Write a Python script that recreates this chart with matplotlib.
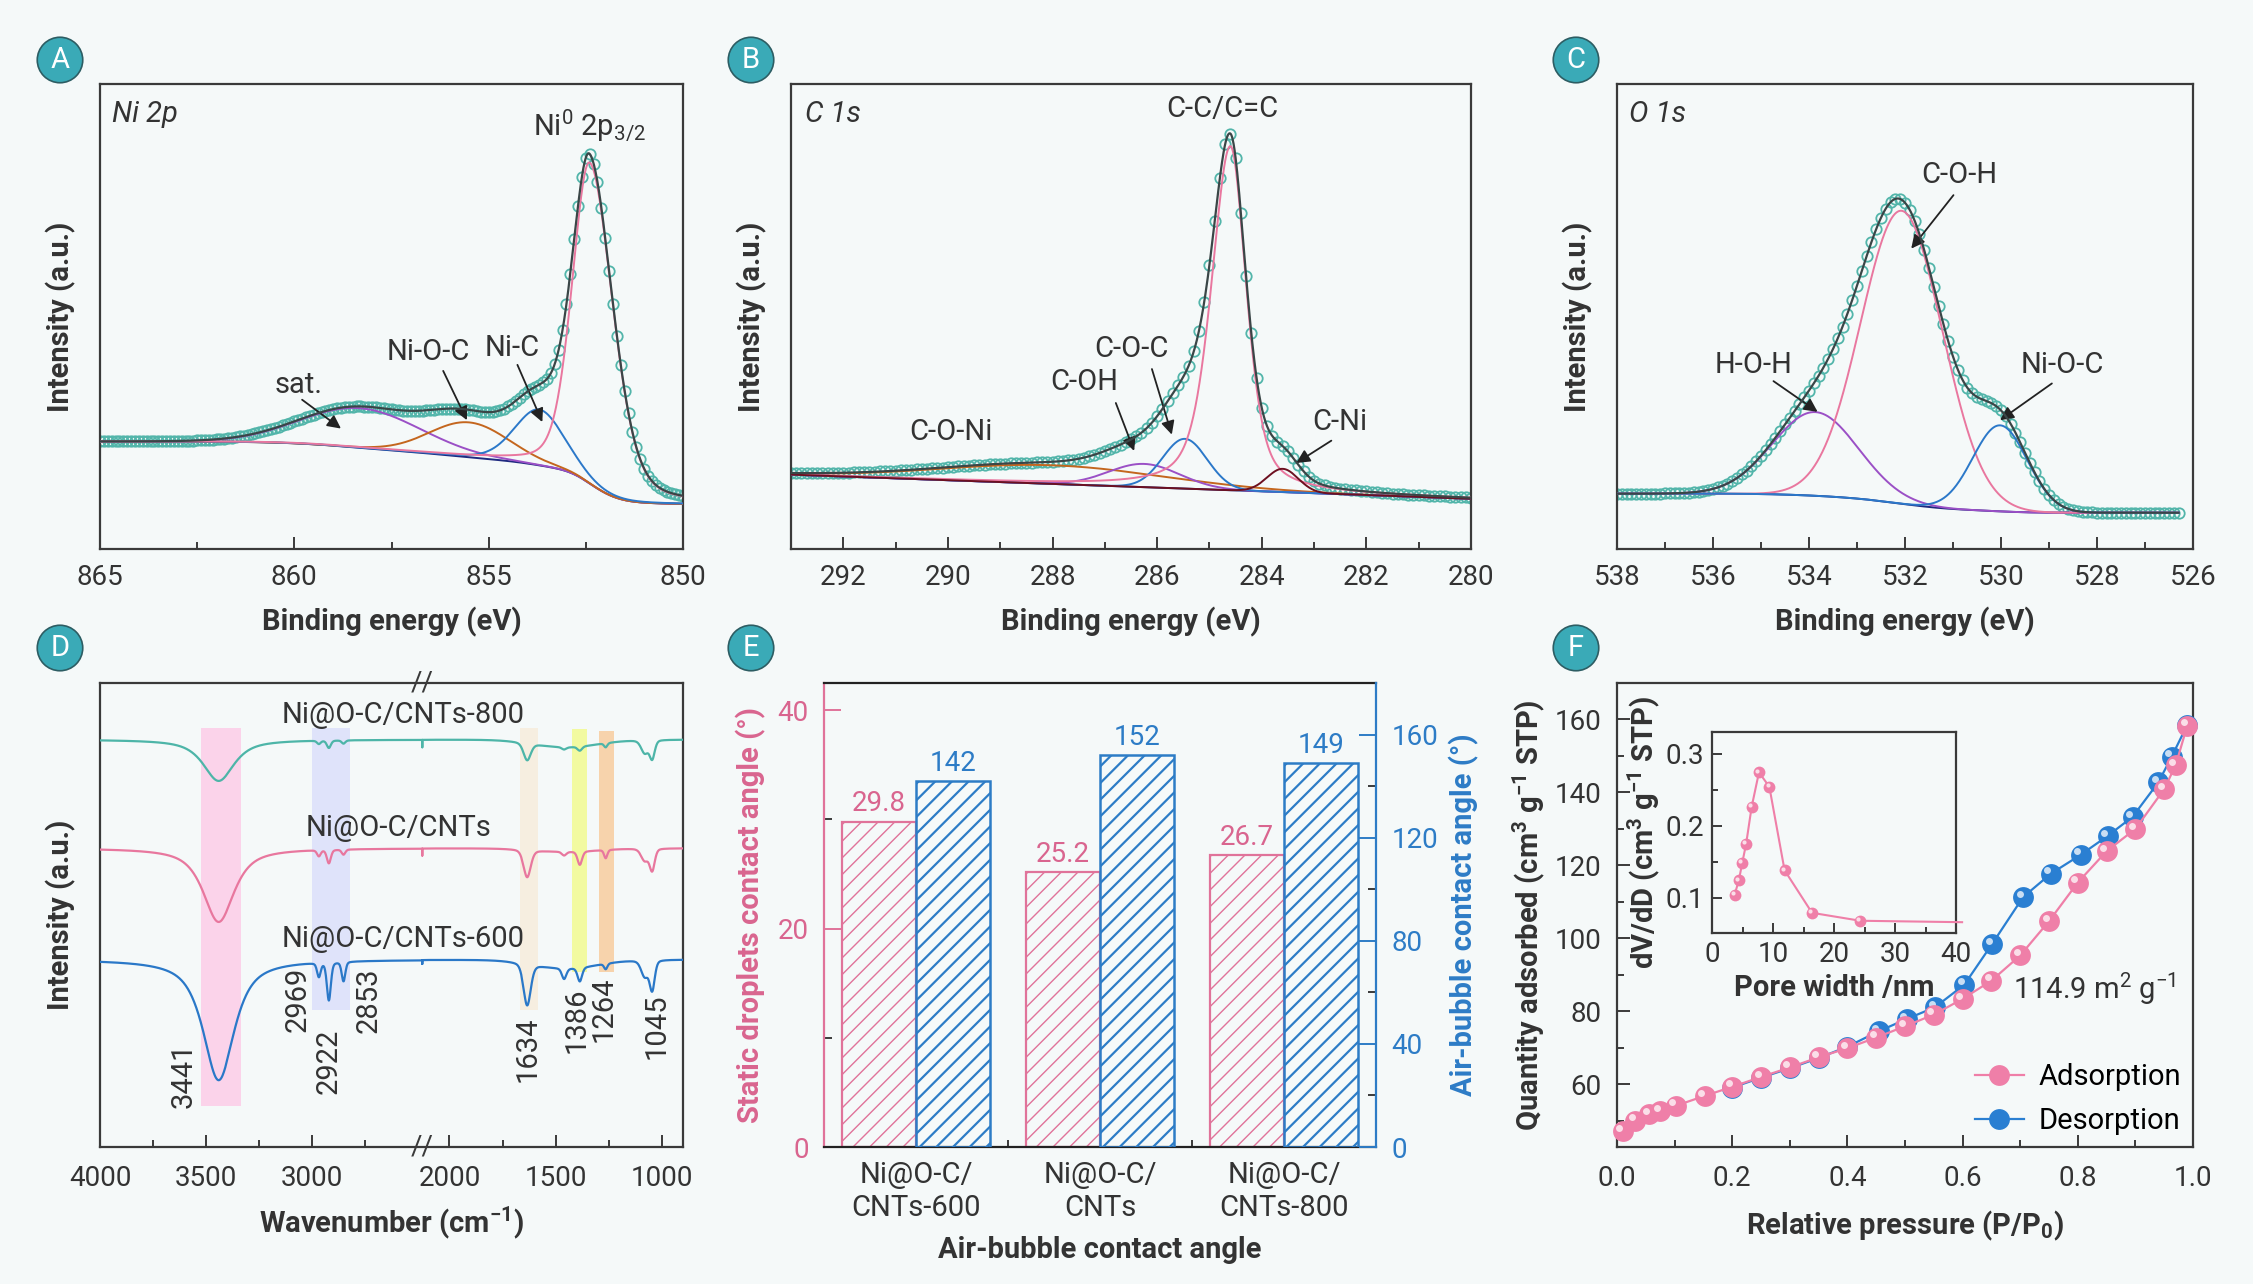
import numpy as np
import matplotlib
matplotlib.use('Agg')
import matplotlib.pyplot as plt
from matplotlib import transforms

plt.rcParams['font.family'] = ['Roboto', 'DejaVu Sans']
plt.rcParams['mathtext.fontset'] = 'custom'
plt.rcParams['mathtext.rm'] = 'Roboto'
plt.rcParams['mathtext.it'] = 'Roboto:italic'
plt.rcParams['mathtext.bf'] = 'Roboto:bold'
plt.rcParams['mathtext.default'] = 'regular'

# ---------------- data ----------------
# A: Ni 2p fit (centre eV, height, fwhm high-BE side, fwhm low-BE side, lorentz share)
ni_names = ['sat.', 'Ni-O-C', 'Ni-C', 'Ni0']
ni_center = [858.3, 855.5, 853.7, 852.4]
ni_height = [0.085, 0.075, 0.12, 0.69]
ni_fwhm_hi = [3.6, 2.4, 1.5, 1.06]
ni_fwhm_lo = [3.6, 2.4, 1.5, 1.40]
ni_eta = [0.0, 0.0, 0.2, 0.3]
ni_bg_low, ni_bg_high = 0.097, 0.231

# B: C 1s fit
c_names = ['C-O-Ni', 'C-OH', 'C-O-C', 'C-C/C=C', 'C-Ni']
c_center = [288.0, 286.25, 285.47, 284.6, 283.6]
c_height = [0.04, 0.05, 0.107, 0.74, 0.05]
c_fwhm_hi = [5.0, 1.6, 1.0, 0.86, 0.7]
c_fwhm_lo = [5.0, 1.6, 1.0, 0.72, 0.7]
c_eta = [0.0, 0.0, 0.0, 0.5, 0.0]
c_bg_low, c_bg_high = 0.108, 0.160

# C: O 1s fit
o_names = ['H-O-H', 'C-O-H', 'Ni-O-C']
o_center = [533.87, 532.07, 530.02]
o_height = [0.18, 0.63, 0.185]
o_fwhm = [2.1, 2.0, 1.34]
o_bg_low, o_bg_high = 0.078, 0.119

# D: FTIR bands (cm-1), widths and depths for each sample
ftir_center = [3441, 2969, 2922, 2853, 2350, 1634, 1460, 1386, 1264, 1080, 1045]
ftir_fwhm = [175, 20, 22, 20, 40, 40, 25, 25, 18, 40, 28]
ftir_eta = [0.8, 0.3, 0.3, 0.3, 0.3, 0.3, 0.3, 0.3, 0.3, 0.3, 0.3]
ftir_depth_800 = [8.9, 0.7, 1.6, 0.7, 1.6, 3.7, 0.5, 0.9, 0.9, 2.8, 3.9]
ftir_depth_cnt = [15.9, 1.3, 2.9, 1.1, 1.5, 5.9, 0.8, 2.9, 1.8, 2.6, 4.6]
ftir_depth_600 = [26.0, 3.0, 8.2, 4.2, 0.8, 9.0, 2.3, 3.0, 1.2, 3.5, 6.3]
ftir_shoulder = [1.6, 0.7, 1.8]          # broad 1450 cm-1 sag
ftir_base = [87.8, 64.4, 40.4]
ftir_names = ['Ni@O-C/CNTs-800', 'Ni@O-C/CNTs', 'Ni@O-C/CNTs-600']
ftir_marks = ['3441', '2969', '2922', '2853', '1634', '1386', '1264', '1045']
band_ranges = [(3525, 3336), (3000, 2822), (1668, 1581), (1423, 1354), (1295, 1223)]
band_heights = [(8.8, 90.2), (29.6, 90.2), (29.6, 90.2), (37.8, 90.0), (37.8, 89.6)]

# E: contact angles
samples = ['Ni@O-C/\nCNTs-600', 'Ni@O-C/\nCNTs', 'Ni@O-C/\nCNTs-800']
static_angle = [29.8, 25.2, 26.7]
bubble_angle = [142, 152, 149]

# F: N2 isotherm
p_ads = [0.010, 0.032, 0.056, 0.075, 0.102, 0.152, 0.200, 0.250, 0.300, 0.350,
         0.400, 0.450, 0.500, 0.550, 0.600, 0.650, 0.700, 0.750, 0.800, 0.850,
         0.900, 0.950, 0.970, 0.990]
q_ads = [47.1, 50.0, 51.8, 52.7, 54.1, 56.8, 59.3, 62.0, 64.6, 67.4,
         69.9, 72.8, 75.9, 79.1, 83.4, 88.4, 95.3, 104.7, 115.3, 123.9,
         130.0, 140.9, 147.5, 158.3]
p_des = [0.990, 0.963, 0.940, 0.895, 0.852, 0.805, 0.753, 0.705, 0.651, 0.603,
         0.552, 0.503, 0.454, 0.400, 0.350, 0.300, 0.250, 0.200]
q_des = [158.5, 149.8, 142.8, 133.3, 128.1, 122.9, 117.7, 111.3, 98.4, 87.3,
         81.1, 77.9, 74.5, 70.3, 67.2, 64.4, 61.8, 59.1]
pore_width = [3.7, 4.4, 4.95, 5.6, 6.5, 7.7, 9.4, 11.9, 16.4, 24.3, 41.0]
pore_dvdd = [0.104, 0.124, 0.148, 0.175, 0.226, 0.274, 0.254, 0.138, 0.079, 0.068, 0.066]

# ---------------- style ----------------
BG = '#f5f9f9'
TXT = '#333333'
SPINE = '#3a3a3a'
DOT = '#52b5aa'
ENV = '#3a4647'
PINK = '#e9779f'
BLUE = '#2b78c9'
ORANGE = '#c4661e'
PURPLE = '#9b50c6'
DARKRED = '#6d1020'
NAVY = '#1f2a80'
TEAL = '#3aaab7'
FS_LAB = 21     # axis titles
FS_ANN = 21     # in-plot words
FS_TICK = 20

W, H = 2253, 1284
fig = plt.figure(figsize=(W / 100, H / 100), dpi=100, facecolor=BG)


def add_ax(l, t, r, b):
    return fig.add_axes([l / W, 1 - b / H, (r - l) / W, (b - t) / H], facecolor=BG)


def frame(ax, color=SPINE):
    for s in ax.spines.values():
        s.set_color(color)
        s.set_linewidth(1.6)
    ax.tick_params(which='both', direction='in', colors=color, labelcolor=TXT,
                   labelsize=FS_TICK, width=1.4, pad=11)
    ax.tick_params(which='major', length=9)
    ax.tick_params(which='minor', length=5)


def voigt(x, c, h, fw_hi, fw_lo, eta):
    hw = np.where(x >= c, fw_hi, fw_lo) / 2.0
    u = (x - c) / hw
    return h * ((1 - eta) * np.exp(-np.log(2) * u ** 2) + eta / (1 + u ** 2))


def shirley(signal, lo, hi):
    cum = np.cumsum(signal)
    return lo + (hi - lo) * cum / cum[-1]


def panel_tag(x, y, s):
    fig.text(x / W, 1 - y / H, s, ha='center', va='center', color='white', fontsize=21,
             bbox=dict(boxstyle='circle,pad=0.3', fc=TEAL, ec='#2d5d63', lw=1.2))


def arrow(ax, tail, tip):
    ax.annotate('', xy=tip, xytext=tail,
                arrowprops=dict(arrowstyle='-|>', color='#222222', lw=1.3, mutation_scale=20,
                                shrinkA=0, shrinkB=0))


def word(ax, x, y, s, **kw):
    ax.text(x, y, s, fontsize=FS_ANN, color=TXT, ha='center', va='center', **kw)


def xps_frame(ax, xlim, major, minor, tag):
    frame(ax)
    ax.set_xlim(*xlim)
    ax.set_ylim(0, 1)
    ax.set_xticks(major)
    ax.set_xticks(minor, minor=True)
    ax.set_yticks([])
    ax.set_xlabel('Binding energy (eV)', fontsize=FS_LAB, fontweight='bold', color=TXT,
                  labelpad=11)
    ax.set_ylabel('Intensity (a.u.)', fontsize=FS_LAB, fontweight='bold', color=TXT,
                  labelpad=17)
    ax.text(0.02, 0.935, tag, transform=ax.transAxes, fontsize=FS_ANN, style='italic',
            color=TXT, va='center')


def draw_fit(ax, x, peaks, bg, colors):
    env = bg + sum(peaks)
    ax.plot(x[::10], env[::10], 'o', ms=7.5, mfc='none', mec=DOT, mew=1.3, zorder=2)
    ax.plot(x, bg, color=NAVY, lw=1.4, zorder=3)
    for p, col in zip(peaks, colors):
        ax.plot(x, bg + p, color=col, lw=1.4, zorder=3)
    ax.plot(x, env, color=ENV, lw=1.6, zorder=4)


# ---------------- A ----------------
ax = add_ax(100, 84, 683, 549)
xa = np.linspace(850, 865, 1501)
pk = [voigt(xa, c, h, fh, fl, e) for c, h, fh, fl, e in
      zip(ni_center, ni_height, ni_fwhm_hi, ni_fwhm_lo, ni_eta)]
bg = shirley(sum(pk), ni_bg_low, ni_bg_high)
draw_fit(ax, xa, pk, bg, [PURPLE, ORANGE, BLUE, PINK])
xps_frame(ax, (865, 850), [865, 860, 855, 850], [862.5, 857.5, 852.5], 'Ni 2p')
ax.text(853.85, 0.91, r'Ni$^0$ 2p$_{3/2}$', fontsize=FS_ANN, color=TXT, va='center')
word(ax, 859.9, 0.352, ni_names[0])
word(ax, 856.55, 0.424, ni_names[1])
word(ax, 854.4, 0.433, ni_names[2])
arrow(ax, (859.8, 0.321), (858.8, 0.259))
arrow(ax, (856.17, 0.383), (855.56, 0.277))
arrow(ax, (854.26, 0.396), (853.62, 0.273))

# ---------------- B ----------------
ax = add_ax(791, 84, 1471, 549)
xb = np.linspace(280, 293, 1301)
pk = [voigt(xb, c, h, fh, fl, e) for c, h, fh, fl, e in
      zip(c_center, c_height, c_fwhm_hi, c_fwhm_lo, c_eta)]
bg = c_bg_low + (c_bg_high - c_bg_low) * (xb - xb[0]) / (xb[-1] - xb[0])
draw_fit(ax, xb, pk, bg, [ORANGE, PURPLE, BLUE, PINK, DARKRED])
xps_frame(ax, (293, 280), list(range(292, 279, -2)), list(range(291, 280, -2)), 'C 1s')
word(ax, 284.76, 0.947, c_names[3])
word(ax, 286.5, 0.431, c_names[2])
word(ax, 287.39, 0.359, c_names[1])
word(ax, 289.95, 0.252, c_names[0])
word(ax, 282.5, 0.274, c_names[4])
arrow(ax, (286.1, 0.387), (285.72, 0.246))
arrow(ax, (286.79, 0.314), (286.44, 0.211))
arrow(ax, (282.67, 0.233), (283.34, 0.185))

# ---------------- C ----------------
ax = add_ax(1617, 84, 2193, 549)
xc = np.linspace(526.3, 538.1, 1181)
pk = [voigt(xc, c, h, f, f, 0.0) for c, h, f in zip(o_center, o_height, o_fwhm)]
bg = shirley(sum(pk), o_bg_low, o_bg_high)
draw_fit(ax, xc, pk, bg, [PURPLE, PINK, BLUE])
xps_frame(ax, (538, 526), list(range(538, 525, -2)), list(range(537, 526, -2)), 'O 1s')
word(ax, 530.87, 0.805, o_names[1])
word(ax, 535.15, 0.396, o_names[0])
word(ax, 528.73, 0.396, o_names[2])
arrow(ax, (530.99, 0.761), (531.87, 0.646))
arrow(ax, (534.74, 0.361), (533.82, 0.295))
arrow(ax, (528.94, 0.356), (530.02, 0.277))

# ---------------- D ----------------
GAP_HI, GAP_LO = 2482.0, 2128.0


def fwd(w):
    w = np.asarray(w, float)
    return np.where(w >= GAP_HI, w, np.where(w <= GAP_LO, w + (GAP_HI - GAP_LO), GAP_HI))


def inv(u):
    u = np.asarray(u, float)
    return np.where(u >= GAP_HI, u, u - (GAP_HI - GAP_LO))


ax = add_ax(100, 683, 683, 1147)
frame(ax)
ax.set_xscale('function', functions=(fwd, inv))
ax.set_xlim(4000, 900)
ax.set_ylim(0, 100)
ax.set_xticks([4000, 3500, 3000, 2000, 1500, 1000])
ax.set_xticks([3750, 3250, 2750, 1750, 1250], minor=True)
ax.set_yticks([])
ax.tick_params(axis='x', pad=13)
band_cols = ['#fbd3ea', '#dfe3fa', '#f6eee0', '#f2faa0', '#f7d3ac']
for (w1, w2), (y1, y2), col in zip(band_ranges, band_heights, band_cols):
    ax.fill_between([w2, w1], [y1, y1], [y2, y2], color=col, lw=0, zorder=1)
wn = np.arange(900, 4001, 2.0)
for base, depth, sh, col in zip(ftir_base, [ftir_depth_800, ftir_depth_cnt, ftir_depth_600],
                                ftir_shoulder, ['#4db5a8', '#e8779e', '#2a78c8']):
    trace = base - voigt(wn, 1450, sh, 350, 350, 0.0)
    for c, f, e, d in zip(ftir_center, ftir_fwhm, ftir_eta, depth):
        trace = trace - voigt(wn, c, d, f, f, e)
    ax.plot(wn, trace, color=col, lw=1.6, zorder=3)
for name, xx, yy in zip(ftir_names, [0.52, 0.512, 0.52], [0.93, 0.688, 0.449]):
    ax.text(xx, yy, name, transform=ax.transAxes, fontsize=FS_ANN, color=TXT,
            ha='center', va='center')
for lab, xx, yy in zip(ftir_marks, [0.143, 0.339, 0.393, 0.461, 0.733, 0.818, 0.864, 0.955],
                       [0.155, 0.319, 0.184, 0.317, 0.21, 0.273, 0.296, 0.26]):
    ax.text(xx, yy, lab, transform=ax.transAxes, rotation=90, fontsize=FS_ANN, color=TXT,
            ha='center', va='center')
brk = transforms.blended_transform_factory(ax.transData, ax.transAxes)
for yy in (0.0, 1.0):
    ax.text(GAP_HI, yy, '//', transform=brk, fontsize=20, color=SPINE, ha='center',
            va='center', clip_on=False)
ax.set_xlabel('Wavenumber (cm$^{-1}$)', fontsize=FS_LAB, fontweight='bold', color=TXT,
              labelpad=9)
ax.set_ylabel('Intensity (a.u.)', fontsize=FS_LAB, fontweight='bold', color=TXT, labelpad=17)

# ---------------- E ----------------
PINK_E = '#e0739a'
PINK_T = '#d9658f'
BLUE_E = '#2d7cc6'
ax = add_ax(824, 683, 1376, 1147)
ax2 = ax.twinx()
frame(ax)
frame(ax2)
xg = np.arange(len(samples))
plt.rcParams['hatch.linewidth'] = 1.0
ax.bar(xg - 0.2, static_angle, 0.4, fill=False, edgecolor=PINK_E, hatch='//', lw=1.6, zorder=2)
plt.rcParams['hatch.linewidth'] = 1.6
ax2.bar(xg + 0.2, bubble_angle, 0.4, fill=False, edgecolor=BLUE_E, hatch='//', lw=1.8, zorder=2)
for xx, v in zip(xg - 0.2, static_angle):
    ax.annotate(f'{v:.1f}', (xx, v), xytext=(0, 3), textcoords='offset points',
                ha='center', va='bottom', fontsize=FS_TICK, color=PINK_T)
for xx, v in zip(xg + 0.2, bubble_angle):
    ax2.annotate(f'{v}', (xx, v), xytext=(0, 3), textcoords='offset points',
                 ha='center', va='bottom', fontsize=FS_TICK, color=BLUE_E)
ax.set_xlim(-0.5, 2.5)
ax.set_ylim(0, 42.5)
ax2.set_ylim(0, 180)
ax.set_yticks([0, 20, 40])
ax.set_yticks([10, 30], minor=True)
ax2.set_yticks([0, 40, 80, 120, 160])
ax2.set_yticks([20, 60, 100, 140], minor=True)
ax.set_xticks(xg, samples, fontsize=FS_ANN, linespacing=1.25)
ax.set_xticks([0.5, 1.5], minor=True)
ax.tick_params(axis='x', which='major', length=0, pad=10)
ax.tick_params(axis='y', colors=PINK_E, labelcolor=PINK_T, length=12)
ax.tick_params(axis='y', which='minor', length=6)
ax2.tick_params(axis='y', colors=BLUE_E, labelcolor=BLUE_E, length=12)
ax2.tick_params(axis='y', which='minor', length=6)
ax.spines['left'].set_color(PINK_E)
ax.spines['right'].set_visible(False)
ax2.spines['right'].set_color(BLUE_E)
for s in ('left', 'top', 'bottom'):
    ax2.spines[s].set_visible(False)
ax.spines['bottom'].set_color('#222222')
ax.spines['top'].set_color('#222222')
ax.set_ylabel('Static droplets contact angle (°)', fontsize=FS_LAB, fontweight='bold',
              color=PINK_T, labelpad=8)
ax2.set_ylabel('Air-bubble contact angle (°)', fontsize=FS_LAB, fontweight='bold',
               color=BLUE_E, labelpad=8)
ax.set_xlabel('Air-bubble contact angle', fontsize=FS_LAB, fontweight='bold', color=TXT,
              labelpad=10)

# ---------------- F ----------------
PINK_B = '#ef7fa8'
BLUE_B = '#2a7fd2'
ax = add_ax(1617, 683, 2193, 1147)
frame(ax)
hl = transforms.offset_copy(ax.transData, fig=fig, x=-2.4, y=2.4, units='points')
l_des, = ax.plot(p_des, q_des, '-o', color=BLUE_B, ms=15, mec='none', lw=1.6,
                 clip_on=False, zorder=3)
ax.plot(p_des, q_des, 'o', color='white', alpha=0.75, ms=5, mec='none', transform=hl,
        clip_on=False, zorder=3.1)
l_ads, = ax.plot(p_ads, q_ads, '-o', color=PINK_B, ms=15, mec='none', lw=1.6,
                 clip_on=False, zorder=4)
ax.plot(p_ads, q_ads, 'o', color='white', alpha=0.75, ms=5, mec='none', transform=hl,
        clip_on=False, zorder=4.1)
ax.set_xlim(0, 1.0)
ax.set_ylim(42.8, 170)
ax.set_xticks(np.arange(0, 1.01, 0.2))
ax.set_xticks(np.arange(0.1, 1.0, 0.2), minor=True)
ax.xaxis.set_major_formatter(matplotlib.ticker.FormatStrFormatter('%.1f'))
ax.set_yticks(range(60, 161, 20))
ax.set_yticks(range(50, 171, 20), minor=True)
ax.tick_params(axis='x', pad=13)
ax.set_xlabel('Relative pressure (P/P$_0$)', fontsize=FS_LAB, fontweight='bold', color=TXT,
              labelpad=12)
ax.set_ylabel('Quantity adsorbed (cm$^3$ g$^{-1}$ STP)', fontsize=FS_LAB, fontweight='bold',
              color=TXT, labelpad=6)
ax.text(0.687, 86.3, '114.9 m$^2$ g$^{-1}$', fontsize=FS_ANN, color=TXT, va='center')
ax.legend([l_ads, l_des], ['Adsorption', 'Desorption'], loc='lower right', frameon=False,
          fontsize=FS_ANN, handlelength=1.7, handletextpad=0.5, labelspacing=0.55,
          borderaxespad=0.1, borderpad=0.3)

axi = add_ax(1712, 732, 1956, 933)
frame(axi)
hli = transforms.offset_copy(axi.transData, fig=fig, x=-1.3, y=1.3, units='points')
axi.plot(pore_width, pore_dvdd, '-', color=PINK_B, lw=1.5, clip_on=False, zorder=3)
axi.plot(pore_width[:-1], pore_dvdd[:-1], 'o', color=PINK_B, ms=8.5, mec='none', zorder=4)
axi.plot(pore_width[:-1], pore_dvdd[:-1], 'o', color='white', alpha=0.75, ms=3, mec='none',
         transform=hli, zorder=5)
axi.set_xlim(0, 40)
axi.set_ylim(0.051, 0.330)
axi.set_xticks(range(0, 41, 10))
axi.set_xticks(range(5, 40, 10), minor=True)
axi.set_yticks([0.1, 0.2, 0.3])
axi.set_yticks([0.15, 0.25], minor=True)
axi.tick_params(which='major', length=7, pad=6)
axi.tick_params(which='minor', length=4)
axi.set_xlabel('Pore width /nm', fontsize=FS_LAB, fontweight='bold', color=TXT, labelpad=4)
axi.set_ylabel('dV/dD (cm$^3$ g$^{-1}$ STP)', fontsize=FS_LAB, fontweight='bold', color=TXT,
               labelpad=2)

for tag, x, y in zip('ABCDEF', [60, 751, 1576, 60, 751, 1576], [60, 60, 60, 648, 648, 648]):
    panel_tag(x, y, tag)

fig.savefig('out.png', dpi=100, facecolor=BG)
